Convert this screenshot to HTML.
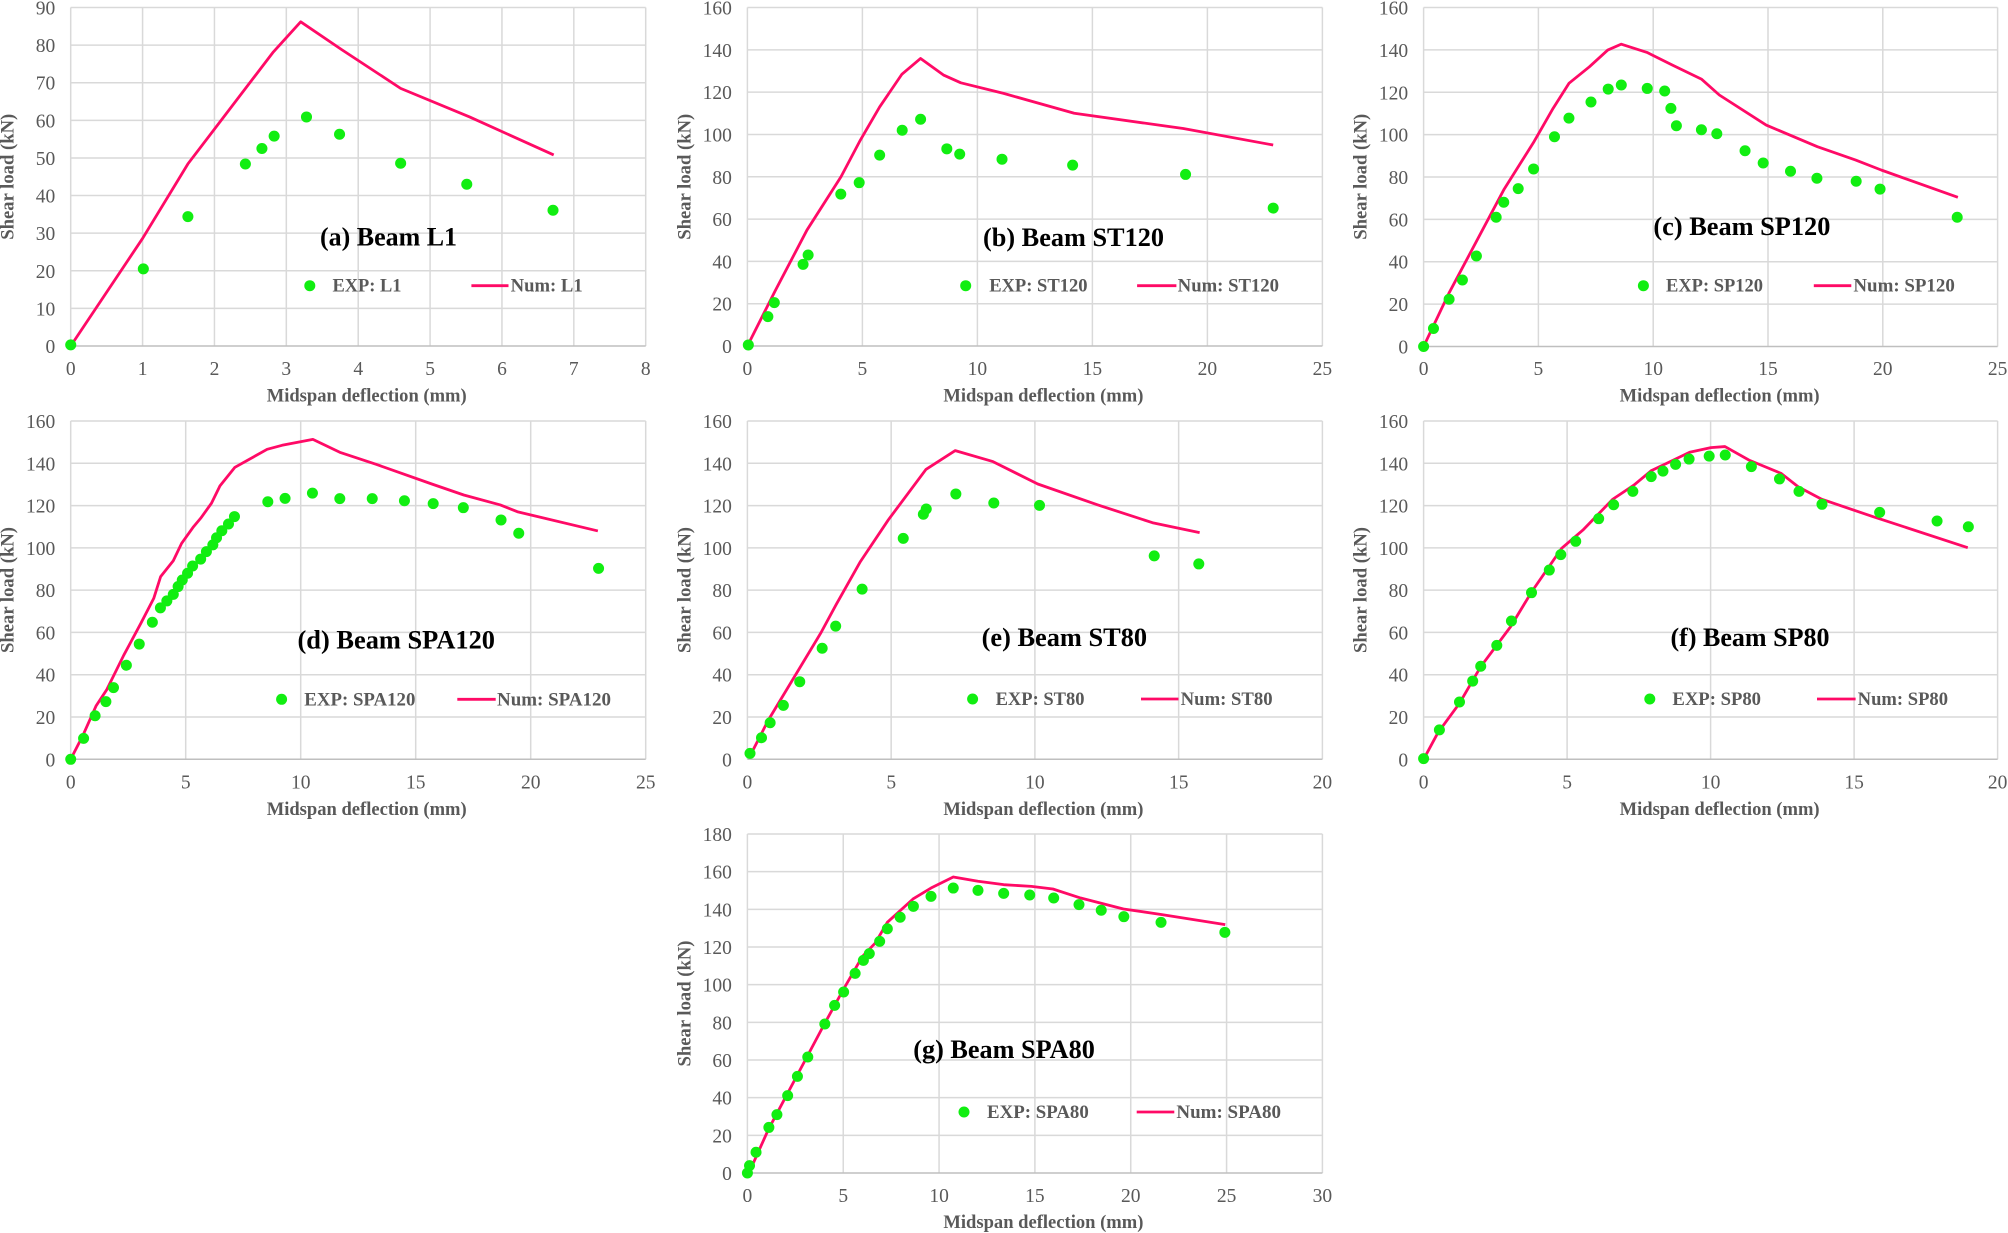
<!DOCTYPE html>
<html><head><meta charset="utf-8"><style>
body{margin:0;background:#fff}
svg{display:block}
text{font-family:"Liberation Serif","Times New Roman",serif}
.t{font-size:19.5px;fill:#595959}
.ax{font-size:18.6px;font-weight:bold;fill:#595959}
.lg{font-size:18.5px;font-weight:bold;fill:#595959}
.ti{font-size:26px;font-weight:bold;fill:#000}
.gr{fill:none;stroke:#d9d9d9;stroke-width:1.5}
.bx{fill:none;stroke:#bfbfbf;stroke-width:1.5}
.nm{fill:none;stroke:#ff0a66;stroke-width:2.8;stroke-linejoin:round}
.ex{fill:none;stroke:#11ee11;stroke-width:11;stroke-linecap:round}
</style></head><body>
<svg width="2008" height="1233" viewBox="0 0 2008 1233" xmlns="http://www.w3.org/2000/svg">
<rect width="2008" height="1233" fill="#fff"/>

<!-- ===== (a) ===== -->
<g transform="translate(70.7,346) scale(71.875,-3.7611)">
<path class="gr" vector-effect="non-scaling-stroke" d="M0 10H8M0 20H8M0 30H8M0 40H8M0 50H8M0 60H8M0 70H8M0 80H8M0 90H8M0 0V90M1 0V90M2 0V90M3 0V90M4 0V90M5 0V90M6 0V90M7 0V90M8 0V90"/>
<path class="bx" vector-effect="non-scaling-stroke" d="M0 0H8"/>
<polyline class="nm" vector-effect="non-scaling-stroke" points="0,0 1,28.6 1.63,48.4 2.82,78.2 3.2,86.2 3.77,78.8 4.59,68.5 5.55,60.9 6.72,50.8"/>
<path class="ex" vector-effect="non-scaling-stroke" d="M0,0.3h.001M1.01,20.5h.001M1.63,34.4h.001M2.43,48.4h.001M2.66,52.5h.001M2.83,55.8h.001M3.28,60.9h.001M3.74,56.3h.001M4.59,48.6h.001M5.51,43h.001M6.71,36.1h.001"/>
</g>
<g class="t" text-anchor="end">
<text x="55.2" y="353">0</text><text x="55.2" y="315.4">10</text><text x="55.2" y="277.8">20</text><text x="55.2" y="240.2">30</text><text x="55.2" y="202.6">40</text><text x="55.2" y="165">50</text><text x="55.2" y="127.3">60</text><text x="55.2" y="89.7">70</text><text x="55.2" y="52.1">80</text><text x="55.2" y="14.5">90</text>
</g>
<g class="t" text-anchor="middle">
<text x="70.7" y="375">0</text><text x="142.6" y="375">1</text><text x="214.5" y="375">2</text><text x="286.3" y="375">3</text><text x="358.2" y="375">4</text><text x="430.1" y="375">5</text><text x="502" y="375">6</text><text x="573.8" y="375">7</text><text x="645.7" y="375">8</text>
</g>
<text class="ax" x="366.7" y="401.7" text-anchor="middle" textLength="200" lengthAdjust="spacingAndGlyphs">Midspan deflection (mm)</text>
<text class="ax" transform="translate(13.7,176.75) rotate(-90)" text-anchor="middle" textLength="126" lengthAdjust="spacingAndGlyphs">Shear load (kN)</text>
<text class="ti" x="320" y="245.7" textLength="137" lengthAdjust="spacingAndGlyphs">(a) Beam L1</text>
<circle cx="309.8" cy="285.7" r="5.5" fill="#11ee11"/>
<text class="lg" x="332.5" y="291.7" textLength="69" lengthAdjust="spacingAndGlyphs">EXP: L1</text>
<line x1="471.4" y1="285.7" x2="508.5" y2="285.7" stroke="#ff0a66" stroke-width="2.8"/>
<text class="lg" x="510.7" y="291.7" textLength="72" lengthAdjust="spacingAndGlyphs">Num: L1</text>

<!-- ===== (b) ===== -->
<g transform="translate(747.4,346) scale(23,-2.1156)">
<path class="gr" vector-effect="non-scaling-stroke" d="M0 20H25M0 40H25M0 60H25M0 80H25M0 100H25M0 120H25M0 140H25M0 160H25M0 0V160M5 0V160M10 0V160M15 0V160M20 0V160M25 0V160"/>
<path class="bx" vector-effect="non-scaling-stroke" d="M0 0H25"/>
<polyline class="nm" vector-effect="non-scaling-stroke" points="0,0 1.19,25.7 2.59,54.8 4.07,80 4.91,97.3 5.75,113 6.72,128.5 7.53,135.9 8.54,128 9.28,124.4 11.14,119.4 14.21,110 18.95,102.8 22.86,95"/>
<path class="ex" vector-effect="non-scaling-stroke" d="M0.04,0.5h.001M0.89,13.9h.001M1.17,20.5h.001M2.42,38.6h.001M2.64,43h.001M4.06,71.8h.001M4.86,77.2h.001M5.75,90.2h.001M6.73,102h.001M7.53,107.2h.001M8.67,93.2h.001M9.23,90.7h.001M11.07,88.3h.001M14.14,85.5h.001M19.05,81.1h.001M22.86,65.2h.001"/>
</g>
<g class="t" text-anchor="end">
<text x="731.9" y="353">0</text><text x="731.9" y="310.7">20</text><text x="731.9" y="268.4">40</text><text x="731.9" y="226.1">60</text><text x="731.9" y="183.8">80</text><text x="731.9" y="141.4">100</text><text x="731.9" y="99.1">120</text><text x="731.9" y="56.8">140</text><text x="731.9" y="14.5">160</text>
</g>
<g class="t" text-anchor="middle">
<text x="747.4" y="375">0</text><text x="862.4" y="375">5</text><text x="977.4" y="375">10</text><text x="1092.4" y="375">15</text><text x="1207.4" y="375">20</text><text x="1322.4" y="375">25</text>
</g>
<text class="ax" x="1043.4" y="401.7" text-anchor="middle" textLength="200" lengthAdjust="spacingAndGlyphs">Midspan deflection (mm)</text>
<text class="ax" transform="translate(690.4,176.75) rotate(-90)" text-anchor="middle" textLength="126" lengthAdjust="spacingAndGlyphs">Shear load (kN)</text>
<text class="ti" x="983" y="246" textLength="181" lengthAdjust="spacingAndGlyphs">(b) Beam ST120</text>
<circle cx="965.7" cy="285.7" r="5.5" fill="#11ee11"/>
<text class="lg" x="989.2" y="291.7" textLength="98.3" lengthAdjust="spacingAndGlyphs">EXP: ST120</text>
<line x1="1137.1" y1="285.7" x2="1176.4" y2="285.7" stroke="#ff0a66" stroke-width="2.8"/>
<text class="lg" x="1177.7" y="291.7" textLength="101.3" lengthAdjust="spacingAndGlyphs">Num: ST120</text>

<!-- ===== (c) ===== -->
<g transform="translate(1423.6,346.5) scale(22.96,-2.1188)">
<path class="gr" vector-effect="non-scaling-stroke" d="M0 20H25M0 40H25M0 60H25M0 80H25M0 100H25M0 120H25M0 140H25M0 160H25M0 0V160M5 0V160M10 0V160M15 0V160M20 0V160M25 0V160"/>
<path class="bx" vector-effect="non-scaling-stroke" d="M0 0H25"/>
<polyline class="nm" vector-effect="non-scaling-stroke" points="0,0 1.1,25.1 3.51,74.3 4.81,96.7 5.64,112.4 6.33,124.2 7.22,132 8.02,139.9 8.61,142.7 9.73,138.8 10.84,132.8 12.1,126.2 12.88,118.7 14.92,104.5 17.15,94.3 18.82,88 19.93,83.3 23.27,70.4"/>
<path class="ex" vector-effect="non-scaling-stroke" d="M0,0h.001M0.43,8.5h.001M1.11,22.3h.001M1.69,31.4h.001M2.3,42.7h.001M3.16,61h.001M3.49,68.1h.001M4.12,74.5h.001M4.79,83.8h.001M5.7,99h.001M6.33,107.8h.001M7.29,115.4h.001M8.04,121.5h.001M8.61,123.4h.001M9.74,121.8h.001M10.5,120.6h.001M10.77,112.4h.001M11.01,104.2h.001M12.1,102.3h.001M12.77,100.4h.001M14,92.4h.001M14.79,86.6h.001M15.98,82.7h.001M17.13,79.4h.001M18.84,78h.001M19.88,74.3h.001M23.24,61h.001"/>
</g>
<g class="t" text-anchor="end">
<text x="1408.1" y="353.5">0</text><text x="1408.1" y="311.1">20</text><text x="1408.1" y="268.7">40</text><text x="1408.1" y="226.4">60</text><text x="1408.1" y="184">80</text><text x="1408.1" y="141.6">100</text><text x="1408.1" y="99.3">120</text><text x="1408.1" y="56.9">140</text><text x="1408.1" y="14.5">160</text>
</g>
<g class="t" text-anchor="middle">
<text x="1423.6" y="375">0</text><text x="1538.4" y="375">5</text><text x="1653.2" y="375">10</text><text x="1768" y="375">15</text><text x="1882.8" y="375">20</text><text x="1997.6" y="375">25</text>
</g>
<text class="ax" x="1719.6" y="401.7" text-anchor="middle" textLength="200" lengthAdjust="spacingAndGlyphs">Midspan deflection (mm)</text>
<text class="ax" transform="translate(1366.6,176.75) rotate(-90)" text-anchor="middle" textLength="126" lengthAdjust="spacingAndGlyphs">Shear load (kN)</text>
<text class="ti" x="1653.4" y="235" textLength="177" lengthAdjust="spacingAndGlyphs">(c) Beam SP120</text>
<circle cx="1643.4" cy="285.7" r="5.5" fill="#11ee11"/>
<text class="lg" x="1666" y="291.7" textLength="97" lengthAdjust="spacingAndGlyphs">EXP: SP120</text>
<line x1="1813.8" y1="285.7" x2="1851.3" y2="285.7" stroke="#ff0a66" stroke-width="2.8"/>
<text class="lg" x="1853.4" y="291.7" textLength="101.4" lengthAdjust="spacingAndGlyphs">Num: SP120</text>

<!-- ===== (d) ===== -->
<g transform="translate(70.7,759.3) scale(23,-2.1144)">
<path class="gr" vector-effect="non-scaling-stroke" d="M0 20H25M0 40H25M0 60H25M0 80H25M0 100H25M0 120H25M0 140H25M0 160H25M0 0V160M5 0V160M10 0V160M15 0V160M20 0V160M25 0V160"/>
<path class="bx" vector-effect="non-scaling-stroke" d="M0 0H25"/>
<polyline class="nm" vector-effect="non-scaling-stroke" points="0,0 0.54,11.5 1.1,25.2 1.56,32.8 2.31,49.3 3.05,64.3 3.61,76.1 3.91,86.4 4.46,93.9 4.82,102.1 5.34,110 5.65,114 6.12,121.1 6.49,129.3 7.14,138.1 8.54,146.6 9.19,148.5 10.53,151.3 11.7,145.2 13.28,139.5 15.7,130.2 17.09,125 18.68,120.3 19.42,117.1 22.92,108"/>
<path class="ex" vector-effect="non-scaling-stroke" d="M0,0h.001M0.56,9.9h.001M1.06,20.6h.001M1.53,27.3h.001M1.86,33.9h.001M2.42,44.5h.001M2.98,54.5h.001M3.55,64.8h.001M3.9,71.6h.001M4.18,74.9h.001M4.46,78h.001M4.67,81.7h.001M4.85,84.8h.001M5.08,88h.001M5.3,91.4h.001M5.65,94.7h.001M5.9,98.2h.001M6.18,101.4h.001M6.34,104.8h.001M6.57,108.1h.001M6.86,111.3h.001M7.12,114.8h.001M8.57,121.8h.001M9.32,123.4h.001M10.51,125.9h.001M11.7,123.3h.001M13.11,123.3h.001M14.51,122.3h.001M15.76,120.9h.001M17.07,119h.001M18.71,113.2h.001M19.48,106.9h.001M22.95,90.3h.001"/>
</g>
<g class="t" text-anchor="end">
<text x="55.2" y="766.3">0</text><text x="55.2" y="724">20</text><text x="55.2" y="681.7">40</text><text x="55.2" y="639.4">60</text><text x="55.2" y="597.2">80</text><text x="55.2" y="554.9">100</text><text x="55.2" y="512.6">120</text><text x="55.2" y="470.3">140</text><text x="55.2" y="428">160</text>
</g>
<g class="t" text-anchor="middle">
<text x="70.7" y="788.3">0</text><text x="185.7" y="788.3">5</text><text x="300.7" y="788.3">10</text><text x="415.7" y="788.3">15</text><text x="530.7" y="788.3">20</text><text x="645.7" y="788.3">25</text>
</g>
<text class="ax" x="366.7" y="815" text-anchor="middle" textLength="200" lengthAdjust="spacingAndGlyphs">Midspan deflection (mm)</text>
<text class="ax" transform="translate(13.7,590) rotate(-90)" text-anchor="middle" textLength="126" lengthAdjust="spacingAndGlyphs">Shear load (kN)</text>
<text class="ti" x="297.5" y="648.3" textLength="197.5" lengthAdjust="spacingAndGlyphs">(d) Beam SPA120</text>
<circle cx="281.6" cy="699.3" r="5.5" fill="#11ee11"/>
<text class="lg" x="304.3" y="705.3" textLength="111.1" lengthAdjust="spacingAndGlyphs">EXP: SPA120</text>
<line x1="457.3" y1="699.3" x2="495.7" y2="699.3" stroke="#ff0a66" stroke-width="2.8"/>
<text class="lg" x="497" y="705.3" textLength="114" lengthAdjust="spacingAndGlyphs">Num: SPA120</text>

<!-- ===== (e) ===== -->
<g transform="translate(747.4,759.3) scale(28.75,-2.1144)">
<path class="gr" vector-effect="non-scaling-stroke" d="M0 20H20M0 40H20M0 60H20M0 80H20M0 100H20M0 120H20M0 140H20M0 160H20M0 0V160M5 0V160M10 0V160M15 0V160M20 0V160"/>
<path class="bx" vector-effect="non-scaling-stroke" d="M0 0H20"/>
<polyline class="nm" vector-effect="non-scaling-stroke" points="0.05,0.5 0.73,18.6 2.56,59.9 3.08,73 3.93,93.5 4.9,113.2 6.21,137.1 7.23,146 8.54,140.8 10.1,130.2 12.19,120.3 14.09,111.9 15.73,107.2"/>
<path class="ex" vector-effect="non-scaling-stroke" d="M0.09,2.8h.001M0.49,10.2h.001M0.79,17.3h.001M1.25,25.5h.001M1.82,36.7h.001M2.6,52.5h.001M3.07,63h.001M3.99,80.5h.001M5.42,104.5h.001M6.12,115.9h.001M6.22,118.4h.001M7.25,125.5h.001M8.57,121.2h.001M10.16,120.1h.001M14.15,96.2h.001M15.7,92.4h.001"/>
</g>
<g class="t" text-anchor="end">
<text x="731.9" y="766.3">0</text><text x="731.9" y="724">20</text><text x="731.9" y="681.7">40</text><text x="731.9" y="639.4">60</text><text x="731.9" y="597.2">80</text><text x="731.9" y="554.9">100</text><text x="731.9" y="512.6">120</text><text x="731.9" y="470.3">140</text><text x="731.9" y="428">160</text>
</g>
<g class="t" text-anchor="middle">
<text x="747.4" y="788.3">0</text><text x="891.2" y="788.3">5</text><text x="1034.9" y="788.3">10</text><text x="1178.7" y="788.3">15</text><text x="1322.4" y="788.3">20</text>
</g>
<text class="ax" x="1043.4" y="815" text-anchor="middle" textLength="200" lengthAdjust="spacingAndGlyphs">Midspan deflection (mm)</text>
<text class="ax" transform="translate(690.4,590) rotate(-90)" text-anchor="middle" textLength="126" lengthAdjust="spacingAndGlyphs">Shear load (kN)</text>
<text class="ti" x="981.6" y="646" textLength="165.5" lengthAdjust="spacingAndGlyphs">(e) Beam ST80</text>
<circle cx="972.6" cy="699" r="5.5" fill="#11ee11"/>
<text class="lg" x="995.6" y="705" textLength="88.9" lengthAdjust="spacingAndGlyphs">EXP: ST80</text>
<line x1="1141" y1="699" x2="1178.5" y2="699" stroke="#ff0a66" stroke-width="2.8"/>
<text class="lg" x="1180.7" y="705" textLength="91.9" lengthAdjust="spacingAndGlyphs">Num: ST80</text>

<!-- ===== (f) ===== -->
<g transform="translate(1423.6,759.3) scale(28.7,-2.1144)">
<path class="gr" vector-effect="non-scaling-stroke" d="M0 20H20M0 40H20M0 60H20M0 80H20M0 100H20M0 120H20M0 140H20M0 160H20M0 0V160M5 0V160M10 0V160M15 0V160M20 0V160"/>
<path class="bx" vector-effect="non-scaling-stroke" d="M0 0H20"/>
<polyline class="nm" vector-effect="non-scaling-stroke" points="0,0 0.5,12.6 1.25,26.5 1.99,43.8 3.03,62.7 3.77,79.3 4.81,99.8 5.55,108.4 6.59,123 7.33,129.7 7.93,136.5 8.52,140.3 9.27,145.2 10.01,147.4 10.5,147.9 11.34,141.5 12.46,135.2 13.05,128.9 13.87,123 15.65,114.8 18.96,100.1"/>
<path class="ex" vector-effect="non-scaling-stroke" d="M0,0.3h.001M0.55,13.9h.001M1.25,27.1h.001M1.71,37h.001M1.99,44h.001M2.55,53.9h.001M3.06,65.4h.001M3.76,78.8h.001M4.38,89.5h.001M4.78,96.8h.001M5.3,103.1h.001M6.1,113.8h.001M6.62,120.4h.001M7.29,126.7h.001M7.93,133.7h.001M8.34,136.3h.001M8.78,139.5h.001M9.25,142h.001M9.95,143.4h.001M10.51,143.9h.001M11.42,138.4h.001M12.4,132.6h.001M13.08,126.7h.001M13.88,120.6h.001M15.89,116.8h.001M17.89,112.7h.001M18.98,110h.001"/>
</g>
<g class="t" text-anchor="end">
<text x="1408.1" y="766.3">0</text><text x="1408.1" y="724">20</text><text x="1408.1" y="681.7">40</text><text x="1408.1" y="639.4">60</text><text x="1408.1" y="597.2">80</text><text x="1408.1" y="554.9">100</text><text x="1408.1" y="512.6">120</text><text x="1408.1" y="470.3">140</text><text x="1408.1" y="428">160</text>
</g>
<g class="t" text-anchor="middle">
<text x="1423.6" y="788.3">0</text><text x="1567.1" y="788.3">5</text><text x="1710.6" y="788.3">10</text><text x="1854.1" y="788.3">15</text><text x="1997.6" y="788.3">20</text>
</g>
<text class="ax" x="1719.6" y="815" text-anchor="middle" textLength="200" lengthAdjust="spacingAndGlyphs">Midspan deflection (mm)</text>
<text class="ax" transform="translate(1366.6,590) rotate(-90)" text-anchor="middle" textLength="126" lengthAdjust="spacingAndGlyphs">Shear load (kN)</text>
<text class="ti" x="1670.5" y="646" textLength="159" lengthAdjust="spacingAndGlyphs">(f) Beam SP80</text>
<circle cx="1649.8" cy="699" r="5.5" fill="#11ee11"/>
<text class="lg" x="1672.4" y="705" textLength="88.6" lengthAdjust="spacingAndGlyphs">EXP: SP80</text>
<line x1="1817" y1="699" x2="1855.6" y2="699" stroke="#ff0a66" stroke-width="2.8"/>
<text class="lg" x="1857.7" y="705" textLength="90.3" lengthAdjust="spacingAndGlyphs">Num: SP80</text>

<!-- ===== (g) ===== -->
<g transform="translate(747.4,1173) scale(19.167,-1.8833)">
<path class="gr" vector-effect="non-scaling-stroke" d="M0 20H30M0 40H30M0 60H30M0 80H30M0 100H30M0 120H30M0 140H30M0 160H30M0 180H30M0 0V180M5 0V180M10 0V180M15 0V180M20 0V180M25 0V180M30 0V180"/>
<path class="bx" vector-effect="non-scaling-stroke" d="M0 0H30"/>
<polyline class="nm" vector-effect="non-scaling-stroke" points="0,0 0.31,5.3 1.09,23 2.66,53.1 4,78.8 5,97.3 6,115 6.67,122.1 7.3,133.1 8.64,145.5 9.58,151.3 10.74,157.2 12.03,154.9 13.37,153.1 14.82,152.2 15.94,150.8 17.39,146 19.62,140.2 21.63,137.2 24.93,131.9"/>
<path class="ex" vector-effect="non-scaling-stroke" d="M0,0h.001M0.11,3.9h.001M0.45,11h.001M1.12,24.2h.001M1.54,31h.001M2.1,41.1h.001M2.61,51.3h.001M3.15,61.6h.001M4.04,79.1h.001M4.55,89h.001M5.02,96.1h.001M5.62,106h.001M6.05,112.9h.001M6.36,116.5h.001M6.9,123h.001M7.3,129.7h.001M7.97,135.8h.001M8.66,141.6h.001M9.58,146.9h.001M10.74,151.3h.001M12.03,150.1h.001M13.37,148.5h.001M14.73,147.6h.001M15.98,146h.001M17.3,142.5h.001M18.46,139.5h.001M19.64,136.1h.001M21.58,133.1h.001M24.91,127.8h.001"/>
</g>
<g class="t" text-anchor="end">
<text x="731.9" y="1180">0</text><text x="731.9" y="1142.3">20</text><text x="731.9" y="1104.7">40</text><text x="731.9" y="1067">60</text><text x="731.9" y="1029.3">80</text><text x="731.9" y="991.7">100</text><text x="731.9" y="954">120</text><text x="731.9" y="916.3">140</text><text x="731.9" y="878.7">160</text><text x="731.9" y="841">180</text>
</g>
<g class="t" text-anchor="middle">
<text x="747.4" y="1202">0</text><text x="843.2" y="1202">5</text><text x="939.1" y="1202">10</text><text x="1034.9" y="1202">15</text><text x="1130.7" y="1202">20</text><text x="1226.6" y="1202">25</text><text x="1322.4" y="1202">30</text>
</g>
<text class="ax" x="1043.4" y="1228" text-anchor="middle" textLength="200" lengthAdjust="spacingAndGlyphs">Midspan deflection (mm)</text>
<text class="ax" transform="translate(690.4,1003.5) rotate(-90)" text-anchor="middle" textLength="126" lengthAdjust="spacingAndGlyphs">Shear load (kN)</text>
<text class="ti" x="913.3" y="1058" textLength="181.5" lengthAdjust="spacingAndGlyphs">(g) Beam SPA80</text>
<circle cx="964" cy="1112" r="5.5" fill="#11ee11"/>
<text class="lg" x="987" y="1118" textLength="101.8" lengthAdjust="spacingAndGlyphs">EXP: SPA80</text>
<line x1="1136.7" y1="1112" x2="1174.3" y2="1112" stroke="#ff0a66" stroke-width="2.8"/>
<text class="lg" x="1176.4" y="1118" textLength="104.6" lengthAdjust="spacingAndGlyphs">Num: SPA80</text>
</svg>
</body></html>
